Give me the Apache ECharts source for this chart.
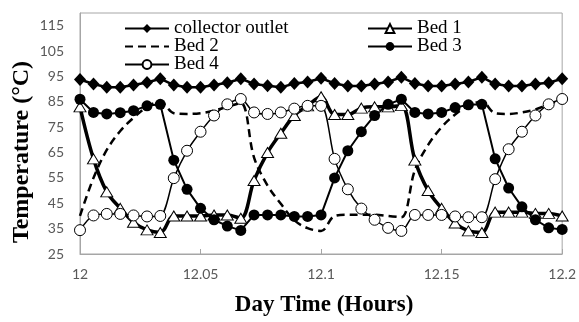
<!DOCTYPE html>
<html>
<head>
<meta charset="utf-8">
<script src="https://cdn.jsdelivr.net/npm/echarts@6/dist/echarts.min.js"></script>
<style>
  html, body { margin: 0; padding: 0; background: #fff; }
  #chart { width: 579px; height: 322px; }
</style>
</head>
<body>
<div id="chart"></div>
<script>
// time in hours, one reading every 20 s
var hours = [12.0000, 12.0056, 12.0111, 12.0167, 12.0222, 12.0278, 12.0333, 12.0389, 12.0444, 12.0500,
    12.0556, 12.0611, 12.0667, 12.0722, 12.0778, 12.0833, 12.0889, 12.0944, 12.1000, 12.1056,
    12.1111, 12.1167, 12.1222, 12.1278, 12.1333, 12.1389, 12.1444, 12.1500, 12.1556, 12.1611,
    12.1667, 12.1722, 12.1778, 12.1833, 12.1889, 12.1944, 12.2000];

var collectorOutlet = [93.8, 92.0, 90.7, 90.7, 91.6, 92.6, 94.1, 91.6, 90.7, 90.7,
    91.6, 92.5, 94.1, 92.0, 91.3, 90.7, 92.2, 92.8, 94.3, 92.2,
    91.2, 91.2, 92.0, 92.8, 94.7, 92.2, 91.2, 91.2, 92.0, 92.8,
    94.7, 92.0, 91.2, 91.2, 92.0, 92.5, 94.1];

var bed1 = [83.0, 62.5, 49.5, 43.0, 37.5, 34.5, 33.5, 40.0, 40.0, 40.0,
    40.4, 40.4, 39.1, 54.0, 65.0, 72.6, 79.6, 83.4, 87.0, 80.0,
    80.0, 82.5, 83.0, 83.0, 83.5, 62.0, 50.0, 43.0, 37.2, 34.1,
    33.5, 41.5, 41.5, 41.5, 41.0, 41.0, 40.0];

var bed2 = [40.0, 55.0, 66.0, 73.5, 78.7, 83.0, 85.0, 80.5, 80.2, 80.5,
    81.5, 83.0, 84.5, 63.0, 52.0, 44.8, 38.3, 35.2, 34.1, 40.0,
    40.5, 40.5, 40.5, 40.0, 39.5, 58.0, 68.0, 75.0, 80.0, 83.5,
    85.0, 80.5, 80.2, 80.8, 82.0, 84.0, 86.0];

var bed3 = [86.0, 80.8, 80.2, 80.7, 81.5, 83.4, 84.0, 62.0, 50.5, 43.0,
    38.5, 36.0, 34.3, 40.4, 40.4, 40.4, 39.8, 39.8, 40.4, 55.0,
    65.7, 73.2, 79.6, 84.0, 86.0, 80.8, 80.2, 80.8, 82.7, 83.8,
    84.0, 62.5, 51.0, 43.6, 38.5, 35.3, 34.7];

var bed4 = [34.4, 40.2, 40.8, 40.8, 40.2, 39.8, 40.0, 54.9, 65.7, 73.2,
    79.6, 84.0, 86.1, 80.8, 80.2, 80.8, 82.3, 83.4, 83.4, 62.5,
    50.5, 42.9, 38.5, 35.3, 34.1, 40.4, 40.4, 40.4, 39.8, 39.5,
    39.5, 54.5, 66.3, 73.2, 79.6, 84.0, 86.1];

var yTicks = [25, 35, 45, 55, 65, 75, 85, 95, 105, 115];
var xTicks = [12, 12.05, 12.1, 12.15, 12.2];

function pairs(values) {
    var out = [];
    for (var i = 0; i < hours.length; i++) {
        out.push([hours[i], values[i]]);
    }
    return out;
}

var frameColor = '#a6a6a6';
var serif = 'Liberation Serif, Times New Roman, serif';
var legendText = { fontFamily: serif, fontSize: 19, color: '#000', lineHeight: 18 };

var chart = echarts.init(document.getElementById('chart'));

var option = {
    animation: false,
    backgroundColor: '#fff',
    grid: {
        left: 80, right: 12, top: 13, bottom: 58,
        show: true, borderColor: frameColor, borderWidth: 1
    },
    legend: [{
        data: ['collector outlet', { name: 'Bed 2', itemStyle: { opacity: 0 } }, 'Bed 4'],
        orient: 'vertical',
        left: 119, top: 14,
        itemWidth: 44, itemHeight: 11, itemGap: -1,
        textStyle: legendText
    }, {
        data: ['Bed 1', 'Bed 3'],
        orient: 'vertical',
        left: 362, top: 14,
        itemWidth: 44, itemHeight: 11, itemGap: -1,
        textStyle: legendText
    }],
    xAxis: {
        type: 'value',
        min: 12, max: 12.2,
        axisLine: { show: true, lineStyle: { color: frameColor } },
        axisTick: { show: true, inside: true, length: 5, lineStyle: { color: frameColor }, customValues: xTicks },
        axisLabel: {
            customValues: xTicks,
            margin: 13,
            fontFamily: 'Lato, sans-serif', fontSize: 14, color: '#595959'
        },
        splitLine: { show: false },
        name: 'Day Time (Hours)',
        nameLocation: 'middle',
        nameGap: 40,
        nameTextStyle: { fontFamily: serif, fontWeight: 'bold', fontSize: 23, color: '#000', padding: [0, 0, 0, 6] }
    },
    yAxis: {
        type: 'value',
        min: 25, max: 120,
        axisLine: { show: true, lineStyle: { color: frameColor } },
        axisTick: { show: false },
        axisLabel: {
            customValues: yTicks,
            margin: 16,
            fontFamily: 'Lato, sans-serif', fontSize: 14, color: '#595959'
        },
        splitLine: { show: false }
    },
    graphic: [{
        type: 'text',
        x: 22, y: 152,
        rotation: Math.PI / 2,
        style: {
            text: 'Temperature (°C)',
            font: 'bold 24px ' + serif,
            fill: '#000',
            textAlign: 'center',
            textVerticalAlign: 'middle'
        }
    }],
    series: [{
        name: 'collector outlet',
        type: 'line',
        data: pairs(collectorOutlet),
        symbol: 'diamond',
        symbolSize: [12, 13],
        itemStyle: { color: '#000' },
        lineStyle: { color: '#000', width: 2.5 }
    }, {
        name: 'Bed 1',
        type: 'line',
        data: pairs(bed1),
        smooth: 0.35,
        symbol: 'triangle',
        symbolSize: [12, 10],
        itemStyle: { color: '#fff', borderColor: '#000', borderWidth: 1 },
        lineStyle: { color: '#000', width: 3.5 }
    }, {
        name: 'Bed 2',
        type: 'line',
        data: pairs(bed2),
        smooth: 0.35,
        symbol: 'circle',
        showSymbol: false,
        itemStyle: { color: '#000' },
        lineStyle: { color: '#000', width: 2.5, type: [8, 5] }
    }, {
        name: 'Bed 3',
        type: 'line',
        data: pairs(bed3),
        symbol: 'circle',
        symbolSize: 11,
        itemStyle: { color: '#000' },
        lineStyle: { color: '#000', width: 2 }
    }, {
        name: 'Bed 4',
        type: 'line',
        data: pairs(bed4),
        smooth: 0.3,
        symbol: 'circle',
        symbolSize: 11,
        itemStyle: { color: '#fff', borderColor: '#000', borderWidth: 1 },
        lineStyle: { color: '#000', width: 1.5 }
    }]
};

chart.setOption(option);
</script>
</body>
</html>
